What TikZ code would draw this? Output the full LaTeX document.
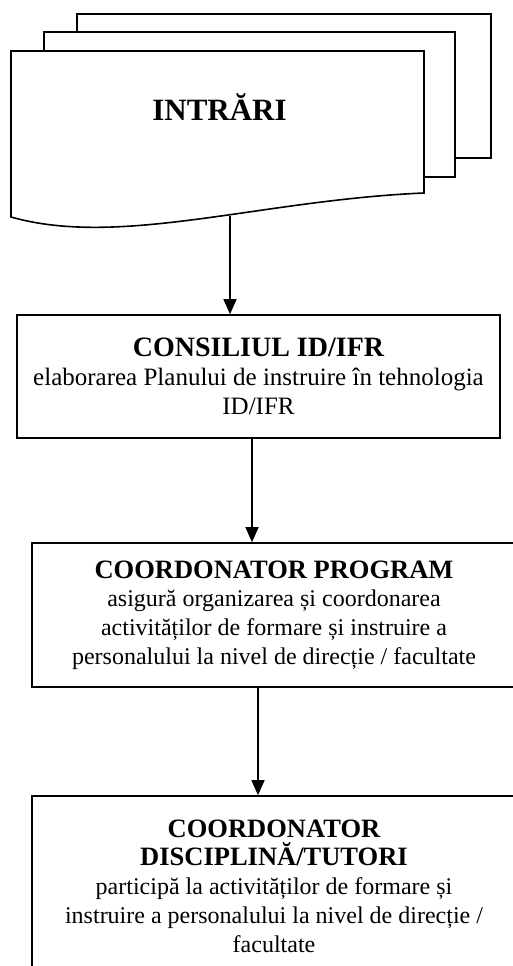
\documentclass[tikz,border=0pt]{standalone}
\usepackage{fontspec}
\setmainfont{Liberation Serif}
\usetikzlibrary{arrows.meta}
\begin{document}
\begin{tikzpicture}[x=1pt,y=-1pt,
  doc/.style={draw=black, fill=white, line width=1.6pt, line join=miter},
  box/.style={draw=black, line width=1.6pt, align=center, inner sep=0pt, font=\fontsize{24}{28.7}\selectfont},
  conn/.style={line width=1.4pt, -{Triangle[width=13pt,length=15pt]}},
  ttl/.style={font=\bfseries\fontsize{26.5}{28.7}\selectfont}
]
\useasboundingbox (0,0) rectangle (513,966);
% stacked documents
\draw[doc] (77,14) rectangle (491,158);
\draw[doc] (44,32) rectangle (455,177);
\draw[doc] (11,51) -- (424,51) -- (424,193) .. controls (260,200) and (120,248) .. (11,217) -- cycle;
\node[font=\bfseries\fontsize{31}{34}\selectfont, anchor=base] (intrari) at (219.5,120) {INTRĂRI};
\coordinate (inbot) at (230,216);
% boxes
\node[box, minimum width=483pt, minimum height=123pt] (b1) at (258.5,376.5)
  {{\bfseries\fontsize{28}{28.7}\selectfont CONSILIUL ID/IFR}\\
   {\fontsize{25}{28.7}\selectfont elaborarea Planului de instruire în tehnologia}\\
   {\fontsize{25}{28.7}\selectfont ID/IFR}};
\node[box, minimum width=484pt, minimum height=144pt] (b2) at (274,615)
  {{\bfseries\fontsize{26.5}{28.7}\selectfont COORDONATOR PROGRAM}\\
   asigură organizarea și coordonarea\\
   activităților de formare și instruire a\\
   personalului la nivel de direcție / facultate};
\node[box, minimum width=484pt, minimum height=180pt] (b3) at (274,886)
  {{\bfseries\fontsize{26.5}{28.7}\selectfont COORDONATOR}\\
   {\bfseries\fontsize{26.5}{28.7}\selectfont DISCIPLINĂ/TUTORI}\\
   participă la activităților de formare și\\
   instruire a personalului la nivel de direcție /\\
   facultate};
% connectors
\coordinate (x2) at (252,0);
\coordinate (x3) at (258,0);
\draw[conn] (inbot) -- (inbot |- b1.north);
\draw[conn] (b1.south -| x2) -- (b2.north -| x2);
\draw[conn] (b2.south -| x3) -- (b3.north -| x3);
\end{tikzpicture}
\end{document}
